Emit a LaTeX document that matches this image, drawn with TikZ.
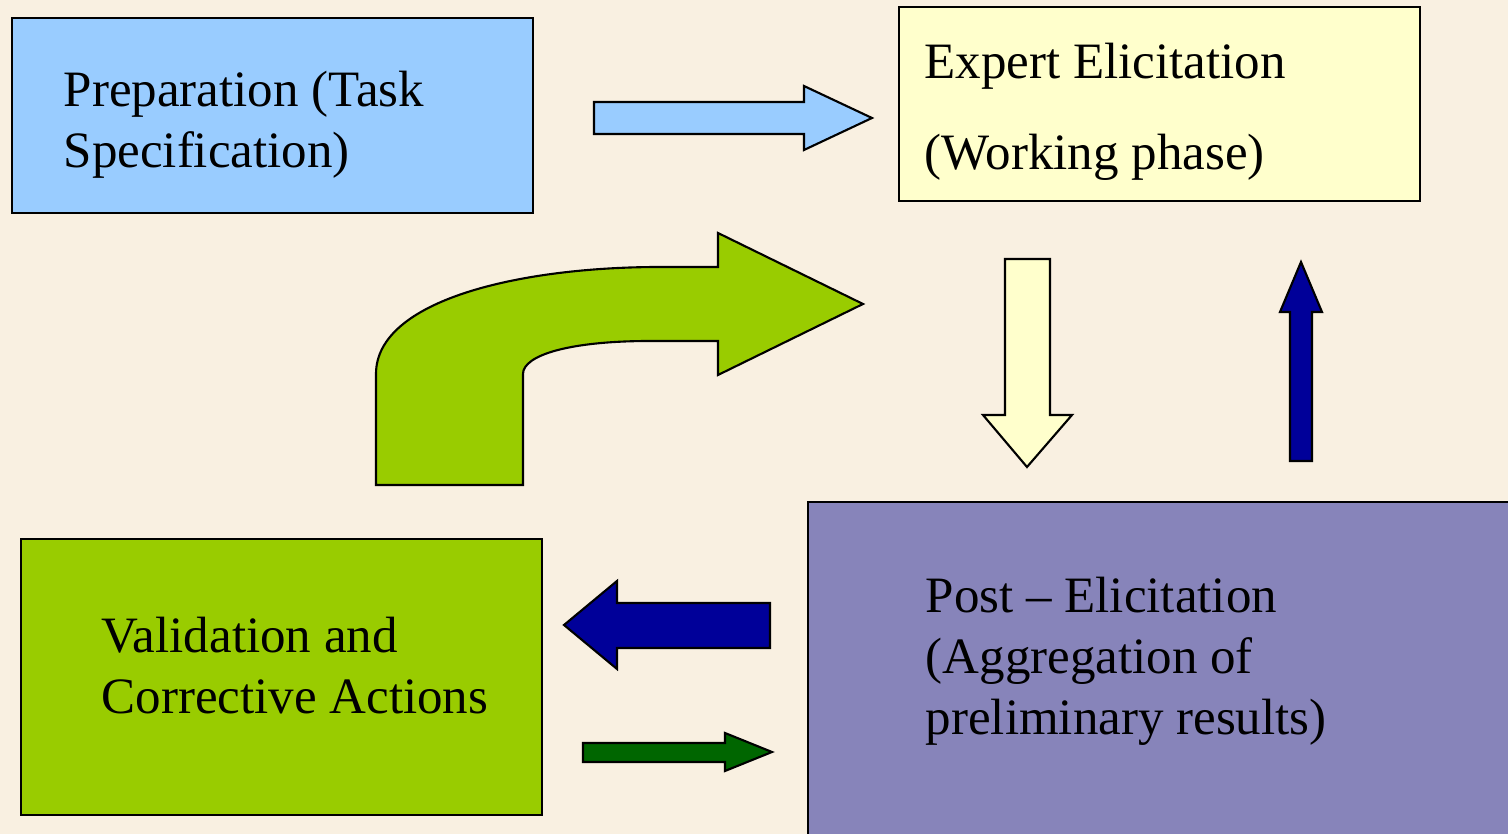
\documentclass[tikz,border=0pt]{standalone}
\usepackage{fontspec}
\setmainfont{Liberation Serif}
\usetikzlibrary{positioning}
\definecolor{paper}{HTML}{F9F0E1}
\definecolor{prep}{HTML}{99CCFF}
\definecolor{expert}{HTML}{FFFFCC}
\definecolor{post}{HTML}{8784BA}
\definecolor{valid}{HTML}{99CC00}
\definecolor{navy}{HTML}{000099}
\definecolor{leaf}{HTML}{006600}

\begin{document}
\begin{tikzpicture}[x=0.01cm,y=-0.01cm, box/.style={draw=black,line width=0.6pt,anchor=north west,inner sep=0pt}, txt/.style={anchor=base west,align=left,inner sep=0pt,font=\fontsize{14.5pt}{17.4pt}\selectfont}, blockarrow/.style={draw=black,line width=0.6pt,line join=miter}]
  \fill[paper] (0,0) rectangle (1508,834);
  \useasboundingbox (0,0) rectangle (1508,834);
  % the four stages
  \node[box,fill=prep,minimum width=5.21cm,minimum height=1.95cm] (prep) at (11,17) {};
  \node[box,fill=expert,minimum width=5.21cm,minimum height=1.94cm] (expert) at (898,6) {};
  \node[box,fill=post,minimum width=7.2cm,minimum height=3.5cm] (post) at (807,501) {};
  \node[box,fill=valid,minimum width=5.21cm,minimum height=2.76cm] (valid) at (20,538) {};
  % texts (base = last line)
  \node[txt] (preptxt) at (63,168) {Preparation (Task\\Specification)};
  \node[txt,font=\fontsize{14.5pt}{26pt}\selectfont] (experttxt) at (924,170) {Expert Elicitation\\(Working phase)};
  \node[txt] (posttxt) at (925,735) {Post -- Elicitation\\(Aggregation of\\preliminary results)};
  \node[txt] (validtxt) at (101,714) {Validation and\\Corrective Actions};
  % block arrows
  \draw[blockarrow,fill=prep] (594,102) -- (804,102) -- (804,86) -- (872,118) -- (804,150) -- (804,134) -- (594,134) -- cycle;
  \draw[blockarrow,fill=expert] (1005,259) -- (1050,259) -- (1050,415) -- (1072,415) -- (1027,467) -- (983,415) -- (1005,415) -- cycle;
  \draw[blockarrow,fill=navy] (1290,461) -- (1290,312) -- (1280,312) -- (1301,262) -- (1322,312) -- (1312,312) -- (1312,461) -- cycle;
  \draw[blockarrow,fill=navy] (770,603) -- (617,603) -- (617,581) -- (564,625) -- (617,669) -- (617,648) -- (770,648) -- cycle;
  \draw[blockarrow,fill=leaf] (583,743) -- (725,743) -- (725,733) -- (772,752) -- (725,771) -- (725,762) -- (583,762) -- cycle;
  \draw[blockarrow,fill=valid] (376,485) -- (376,374) .. controls (376,300) and (520,267) .. (660,267) -- (718,267) -- (718,233) -- (863,304) -- (718,375) -- (718,341) -- (650,341) .. controls (570,341) and (523,355) .. (523,374) -- (523,485) -- cycle;
\end{tikzpicture}
\end{document}
